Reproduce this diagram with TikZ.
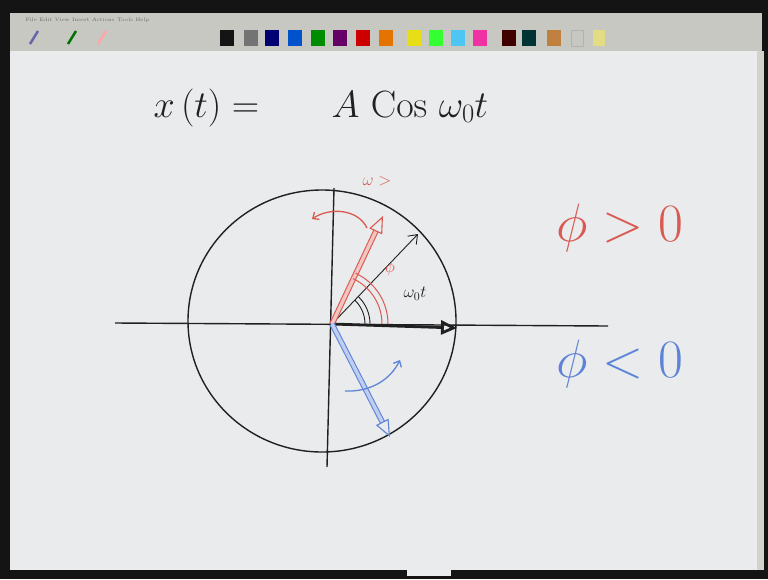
\documentclass[tikz,border=0pt]{standalone}
\usepackage{fix-cm}
\usetikzlibrary{arrows.meta}
\definecolor{board}{HTML}{E9EBEC}
\definecolor{bar}{HTML}{C8C8C2}
\definecolor{frame}{HTML}{141414}
\definecolor{ink}{HTML}{202020}
\definecolor{inkred}{HTML}{DA5A52}
\definecolor{inkblue}{HTML}{5E84D8}

\begin{document}
\begin{tikzpicture}[x=1pt,y=-1pt,
  axis/.style={ink,line width=1.4pt},
  vec/.style={line width=1.1pt,double distance=3.4pt,-{Triangle[open,length=17pt,width=14pt]}},
  turn/.style={line width=1.3pt,-{Straight Barb[length=5pt,width=9pt]}},
  big/.style={font=\fontsize{38}{42}\selectfont},
  small/.style={font=\fontsize{17}{19}\selectfont,inner sep=1pt},
  swatch/.style={minimum width=14pt,minimum height=16pt,inner sep=0pt,draw=none}]
  % screen frame and toolbar
  \useasboundingbox (0,0) rectangle (768,579);
  \fill[frame] (0,0) rectangle (768,579);
  \fill[bar] (10,13) rectangle (762,51);
  \fill[board] (10,51) rectangle (757,570);
  \fill[bar!80] (757,51) rectangle (764,570);
  \fill[board] (407,570) rectangle (451,576);
  \node[anchor=west,font=\fontsize{5}{6}\selectfont,text=black!60] (menu) at (22,20)
    {File\enspace Edit\enspace View\enspace Insert\enspace Actions\enspace Tools\enspace Help};
  \draw[line width=2.5pt,black!55!blue!60] (30,44) -- (38,31);
  \draw[line width=2.5pt,green!45!black] (68,44) -- (76,31);
  \draw[line width=2.5pt,red!35!white] (98,44) -- (106,31);
  \foreach \x/\c in {220/frame,244/black!55,265/blue!45!black,288/blue!60!cyan!80!black,
      311/green!55!black,333/violet!80!black,356/red!80!black,379/orange!90!black,
      407/yellow!90!black,429/green!80!white,451/cyan!70!white,473/magenta!80!white,
      502/red!25!black,522/teal!40!black,547/brown}
    \node[swatch,fill=\c,anchor=north west] at (\x,30) {};
  \fill[yellow!40!bar] (593,30) rectangle (605,46);
  \draw[black!30] (571,30) rectangle (583,46);

  % axes and circle
  \coordinate (O) at (332,324);
  \coordinate (xl) at (115,323);
  \coordinate (xr) at (608,326);
  \coordinate (yt) at (334,188);
  \coordinate (yb) at (327,467);
  \draw[axis] (xl) -- (xr);
  \draw[axis] (yt) -- (yb);
  \draw[axis] (322,321) ellipse[x radius=134,y radius=131];

  % phasors
  \coordinate (ktip) at (457,328);
  \coordinate (wtip) at (418,234);
  \coordinate (rtip) at (383,216);
  \coordinate (btip) at (390,437);
  \draw[ink,line width=2.8pt,-{Triangle[open,length=16pt,width=14pt]}] (O) -- (ktip);
  \draw[ink,line width=0.9pt,-{Straight Barb[length=8pt,width=12pt]}] (O) -- (wtip);
  \draw[vec,draw=inkred,double=inkred!35] (O) -- (rtip);
  \draw[vec,draw=inkblue,double=inkblue!40] (O) -- (btip);

  % angles
  \draw[ink,line width=0.9pt] (O) ++(33,0) arc[start angle=0,end angle=-46,radius=33];
  \draw[ink,line width=0.9pt] (O) ++(38,0) arc[start angle=0,end angle=-46,radius=38];
  \draw[inkred,line width=1pt] (O) ++(50,0) arc[start angle=0,end angle=-65,radius=50];
  \draw[inkred,line width=1pt] (O) ++(56,0) arc[start angle=0,end angle=-65,radius=56];

  % sense of rotation
  \coordinate (ra) at (367,228);
  \coordinate (rb) at (312,219);
  \coordinate (ba) at (345,391);
  \coordinate (bb) at (400,360);
  \draw[turn,inkred] (ra) .. controls (358,209) and (330,207) .. (rb);
  \draw[turn,inkblue] (ba) .. controls (365,392) and (388,384) .. (bb);

  % labels
  \node[small,text=inkred] (wpos) at (377,181) {$\omega>$};
  \node[small,text=inkred] (phismall) at (390,268) {$\phi$};
  \node[small,text=ink] (wt) at (415,294) {$\omega_0 t$};
  \node[big,anchor=base west,text=ink] (xt) at (150,117) {$x\,(t) =$};
  \node[big,anchor=base west,text=ink] (acos) at (328,117) {$A\ \mathrm{Cos}\ \omega_0 t$};
  \node[text=inkred,font=\fontsize{54}{58}\selectfont] (phigt) at (620,228) {$\phi > 0$};
  \node[text=inkblue,font=\fontsize{54}{58}\selectfont] (philt) at (620,364) {$\phi < 0$};
\end{tikzpicture}
\end{document}
